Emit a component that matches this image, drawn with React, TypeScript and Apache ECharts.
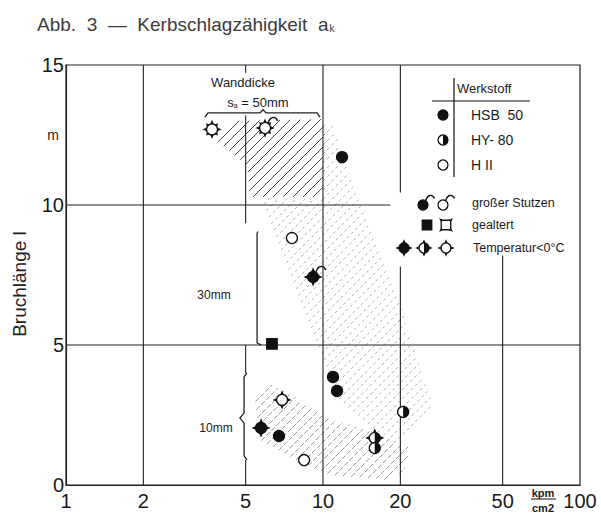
import React, { useEffect, useRef } from 'react';
import * as echarts from 'echarts';

// ---- axis ticks ----
const xTickValues = [1, 2, 5, 10, 20, 50, 100];
const yMin = 0;
const yMax = 15;
const yInterval = 5;

// ---- data points (Kerbschlagzähigkeit kpm/cm², Bruchlänge m) ----
const pointX = [3.7, 5.95, 11.86, 7.57, 9.15, 6.33, 10.94, 11.34, 6.93, 20.5, 5.74, 6.74, 8.44, 15.9, 15.9];
const pointY = [12.7, 12.75, 11.71, 8.82, 7.43, 5.04, 3.86, 3.36, 3.04, 2.61, 2.04, 1.75, 0.89, 1.68, 1.32];
// material: HSB = HSB 50 (filled), HY = HY-80 (half), HII = H II (open)
const pointMaterial = ['HII', 'HII', 'HSB', 'HII', 'HSB', 'HSB', 'HSB', 'HSB', 'HII', 'HY', 'HSB', 'HSB', 'HII', 'HY', 'HY'];
// modifiers: S = großer Stutzen, G = gealtert, T = Temperatur < 0°C
const pointMods = ['GT', 'GTS', '', '', 'TS', 'G', '', '', 'T', '', 'T', '', '', 'T', ''];

// ---- hatched zones (Wanddicke 50 / 30 / 10 mm) ----
const zone50X = [3.83, 4.51, 10, 10, 5.2, 5.06];
const zone50Y = [12.32, 13.0, 13.07, 10.29, 10.29, 11.43];
const zone30X = [5.79, 10, 10, 10.94, 13.32, 18.56, 26.8, 20.85, 16.67, 11.65, 9.56, 8.14];
const zone30Y = [10.21, 10.21, 12.86, 12.86, 10.46, 7.39, 2.75, 1.61, 1.79, 3.04, 5.0, 6.61];
const zone10X = [5.44, 6.22, 8.14, 10.65, 18.23, 21.8, 20.85, 18.23, 10.65, 8.14, 5.69];
const zone10Y = [3.04, 3.61, 3.04, 2.39, 1.68, 1.32, 0.54, 0.18, 0.36, 0.82, 1.61];

// ---- grid line segments [x1, y1, x2, y2] ----
const gridSegments = [
  [2, 0, 2, 15],
  [5, 14.72, 5, 15],
  [5, 9.35, 5, 13.2],
  [5, 4.0, 5, 5],
  [5, 0, 5, 0.9],
  [10, 0, 10, 15],
  [20, 0, 20, 7.8],
  [20, 10.45, 20, 15],
  [50, 0, 50, 8.2],
  [1, 5, 100, 5],
  [1, 10, 18.3, 10],
];

// ---- brackets ----
const brace50X = [3.47, 3.57, 5.69, 5.84, 6.0, 9.48, 9.73];
const brace50Y = [13.14, 13.29, 13.29, 13.4, 13.29, 13.29, 13.14];
const bracket30X = [5.58, 5.54, 5.54, 5.75];
const bracket30Y = [9.05, 8.98, 5.08, 5.0];
const brace10X = [5.06, 4.93, 4.93, 4.75, 4.93, 4.93, 5.06];
const brace10Y = [4.0, 3.86, 2.57, 2.39, 2.21, 1.04, 0.9];

const INK = '#111';
const FONT = 'Liberation Sans, Arial, sans-serif';

function markerEls(cx: number, cy: number, mat: string, mods: string, r: number): any[] {
  const els: any[] = [];
  const filled = mat === 'HSB';
  const hasT = mods.includes('T');
  const hasG = mods.includes('G');
  const hasS = mods.includes('S');
  const spike = (ang: number, len: number) => {
    const ca = Math.cos(ang);
    const sa = Math.sin(ang);
    const px = -sa;
    const py = ca;
    const b = r * 0.8;
    const w = r * 0.4;
    return {
      type: 'polygon',
      shape: {
        points: [
          [cx + ca * b + px * w, cy + sa * b + py * w],
          [cx + ca * len, cy + sa * len],
          [cx + ca * b - px * w, cy + sa * b - py * w],
        ],
      },
      style: { fill: INK },
    };
  };
  if (hasS) {
    els.push({
      type: 'bezierCurve',
      shape: {
        x1: cx + r * 0.5, y1: cy - r * 0.8,
        cpx1: cx + r * 0.9, cpy1: cy - r * 2.2,
        cpx2: cx + r * 1.9, cpy2: cy - r * 2.2,
        x2: cx + r * 2.3, y2: cy - r * 1.3,
      },
      style: { stroke: INK, fill: null, lineWidth: 1.4 },
    });
  }
  if (hasT) {
    [0, Math.PI / 2, Math.PI, -Math.PI / 2].forEach((a) => els.push(spike(a, r * 1.75)));
  }
  const square = hasG && !hasT;
  if (hasG && !filled) {
    [Math.PI / 4, (3 * Math.PI) / 4, -Math.PI / 4, (-3 * Math.PI) / 4].forEach((a) =>
      els.push(spike(a, r * (square ? 1.95 : 1.55)))
    );
  }
  if (square) {
    const s = r * 0.95;
    els.push({
      type: 'rect',
      shape: { x: cx - s, y: cy - s, width: 2 * s, height: 2 * s },
      style: { fill: filled ? INK : '#fff', stroke: INK, lineWidth: 1.3 },
    });
    if (mat === 'HY') {
      els.push({ type: 'rect', shape: { x: cx, y: cy - s, width: s, height: 2 * s }, style: { fill: INK } });
    }
  } else {
    els.push({
      type: 'circle',
      shape: { cx, cy, r },
      style: { fill: filled ? INK : '#fff', stroke: INK, lineWidth: 1.3 },
    });
    if (mat === 'HY') {
      els.push({
        type: 'sector',
        shape: { cx, cy, r0: 0, r, startAngle: -Math.PI / 2, endAngle: Math.PI / 2, clockwise: true },
        style: { fill: INK },
      });
    }
  }
  return els;
}

function hatch(pts: number[][], spacing: number, style: any): any[] {
  const sums = pts.map((p) => p[0] + p[1]);
  const cmin = Math.min(...sums);
  const cmax = Math.max(...sums);
  const out: any[] = [];
  for (let c = Math.ceil(cmin / spacing) * spacing; c <= cmax; c += spacing) {
    const xs: number[][] = [];
    for (let i = 0; i < pts.length; i++) {
      const a = pts[i];
      const b = pts[(i + 1) % pts.length];
      const fa = a[0] + a[1] - c;
      const fb = b[0] + b[1] - c;
      if ((fa < 0 && fb >= 0) || (fb < 0 && fa >= 0)) {
        const t = fa / (fa - fb);
        xs.push([a[0] + t * (b[0] - a[0]), a[1] + t * (b[1] - a[1])]);
      }
    }
    xs.sort((p, q) => p[0] - q[0]);
    for (let k = 0; k + 1 < xs.length; k += 2) {
      out.push({
        type: 'line',
        shape: { x1: xs[k][0], y1: xs[k][1], x2: xs[k + 1][0], y2: xs[k + 1][1] },
        style,
      });
    }
  }
  return out;
}

const zones = [
  { xs: zone50X, ys: zone50Y, spacing: 10, style: { stroke: '#444', lineWidth: 1 } },
  { xs: zone30X, ys: zone30Y, spacing: 9, style: { stroke: '#b0b0b0', lineWidth: 1, lineDash: [3, 3] } },
  { xs: zone10X, ys: zone10Y, spacing: 9, style: { stroke: '#999', lineWidth: 1, lineDash: [5, 2] } },
];

const brackets = [
  { xs: brace50X, ys: brace50Y },
  { xs: bracket30X, ys: bracket30Y },
  { xs: brace10X, ys: brace10Y },
];

function txt(text: string, x: number, y: number, size: number, align = 'left', extra: any = {}) {
  return {
    type: 'text',
    x,
    y,
    z: 20,
    style: {
      text,
      fontSize: size,
      fontFamily: FONT,
      fill: '#1a1a1a',
      textAlign: align,
      textVerticalAlign: 'middle',
      ...extra,
    },
  };
}

function legendGraphics(): any[] {
  const g: any[] = [];
  const mk = (cx: number, cy: number, mat: string, mods: string) =>
    g.push({ type: 'group', z: 20, children: markerEls(cx, cy, mat, mods, 5) });
  g.push(txt('Werkstoff', 457, 88, 13));
  g.push({ type: 'line', z: 20, shape: { x1: 432, y1: 101, x2: 530, y2: 101 }, style: { stroke: INK, lineWidth: 1.2 } });
  g.push({ type: 'line', z: 20, shape: { x1: 454, y1: 78, x2: 454, y2: 177 }, style: { stroke: INK, lineWidth: 1.2 } });
  mk(443, 115, 'HSB', '');
  mk(443, 140, 'HY', '');
  mk(443, 165, 'HII', '');
  g.push(txt('HSB  50', 471, 115, 14));
  g.push(txt('HY- 80', 471, 140, 14));
  g.push(txt('H II', 471, 165, 14));
  mk(423, 205, 'HSB', 'S');
  mk(443, 205, 'HII', 'S');
  g.push(txt('großer Stutzen', 472, 203, 12.5));
  mk(427, 225, 'HSB', 'G');
  mk(446, 225, 'HII', 'G');
  g.push(txt('gealtert', 472, 225, 12.5));
  mk(404, 248, 'HSB', 'T');
  mk(424, 248, 'HY', 'T');
  mk(446, 248, 'HII', 'T');
  g.push(txt('Temperatur<0°C', 473, 248, 12.5));
  return g;
}

export default function App() {
  const ref = useRef<HTMLDivElement>(null);
  useEffect(() => {
    if (!ref.current) return;
    const chart = echarts.init(ref.current, null, { renderer: 'svg' });
    const pointData = pointX.map((x, i) => [x, pointY[i]]);
    const option: any = {
      animation: false,
      backgroundColor: '#fff',
      grid: {
        left: 66,
        top: 65,
        width: 514,
        height: 420,
        show: true,
        borderColor: '#222',
        borderWidth: 1.2,
        backgroundColor: 'transparent',
      },
      xAxis: {
        type: 'log',
        logBase: 10,
        min: 1,
        max: 100,
        axisLine: { show: true, lineStyle: { color: '#222', width: 1.2 } },
        axisTick: { show: false },
        splitLine: { show: false },
        minorSplitLine: { show: false },
        axisLabel: {
          customValues: xTickValues,
          formatter: (v: number) => String(Math.round(v)),
          fontSize: 20,
          fontFamily: FONT,
          color: '#1a1a1a',
          margin: 6,
        },
      },
      yAxis: {
        type: 'value',
        min: yMin,
        max: yMax,
        interval: yInterval,
        axisLine: { show: true, lineStyle: { color: '#222', width: 1.2 } },
        axisTick: { show: false },
        splitLine: { show: false },
        axisLabel: { fontSize: 20, fontFamily: FONT, color: '#1a1a1a', margin: 2 },
      },
      series: [
        {
          type: 'custom',
          coordinateSystem: 'cartesian2d',
          silent: true,
          clip: false,
          z: 1,
          data: zones.map((zn) => [zn.xs[0], zn.ys[0]]),
          renderItem: (params: any, api: any) => {
            const zn = zones[params.dataIndex];
            const pts = zn.xs.map((x, k) => api.coord([x, zn.ys[k]]));
            return { type: 'group', children: hatch(pts, zn.spacing, zn.style) };
          },
        },
        {
          type: 'custom',
          coordinateSystem: 'cartesian2d',
          silent: true,
          clip: false,
          z: 2,
          data: gridSegments,
          renderItem: (params: any, api: any) => {
            const p1 = api.coord([api.value(0), api.value(1)]);
            const p2 = api.coord([api.value(2), api.value(3)]);
            return {
              type: 'line',
              shape: { x1: p1[0], y1: p1[1], x2: p2[0], y2: p2[1] },
              style: { stroke: '#222', lineWidth: 1.1 },
            };
          },
        },
        {
          type: 'custom',
          coordinateSystem: 'cartesian2d',
          silent: true,
          clip: false,
          z: 3,
          data: brackets.map((b) => [b.xs[0], b.ys[0]]),
          renderItem: (params: any, api: any) => {
            const b = brackets[params.dataIndex];
            const pts = b.xs.map((x, k) => api.coord([x, b.ys[k]]));
            return { type: 'polyline', shape: { points: pts }, style: { stroke: '#222', lineWidth: 1.3, fill: null } };
          },
        },
        {
          type: 'custom',
          coordinateSystem: 'cartesian2d',
          silent: true,
          clip: false,
          z: 5,
          data: pointData,
          renderItem: (params: any, api: any) => {
            const p = api.coord([api.value(0), api.value(1)]);
            const i = params.dataIndex;
            return { type: 'group', children: markerEls(p[0], p[1], pointMaterial[i], pointMods[i], 5.5) };
          },
        },
      ],
      graphic: [
        {
          type: 'text',
          x: 37,
          y: 24,
          style: {
            text: 'Abb.  3  —  Kerbschlagzähigkeit  a{k|k}',
            fontSize: 19,
            fontFamily: FONT,
            fill: '#3c3c3c',
            textVerticalAlign: 'middle',
            rich: { k: { fontSize: 10, fontFamily: FONT, fill: '#3c3c3c', verticalAlign: 'bottom', padding: [8, 0, 0, 1] } },
          },
        },
        txt('Bruchlänge l', 19, 284, 19, 'center', { fill: '#222' }),
        txt('m', 53, 135, 14, 'center'),
        txt('Wanddicke', 243, 82, 13, 'center'),
        {
          type: 'text',
          x: 258,
          y: 102,
          z: 20,
          style: {
            text: 's{a|a} = 50mm',
            fontSize: 13,
            fontFamily: FONT,
            fill: '#1a1a1a',
            textAlign: 'center',
            textVerticalAlign: 'middle',
            rich: { a: { fontSize: 7, fontFamily: FONT, verticalAlign: 'bottom', padding: [5, 0, 0, 0] } },
          },
        },
        txt('30mm', 214, 295, 12, 'center'),
        txt('10mm', 216, 428, 12, 'center'),
        txt('kpm', 543, 493, 11, 'center', { fontWeight: 'bold' }),
        { type: 'line', shape: { x1: 531, y1: 499, x2: 556, y2: 499 }, style: { stroke: INK, lineWidth: 1 } },
        txt('cm2', 543, 508, 11, 'center', { fontWeight: 'bold' }),
        ...legendGraphics(),
      ],
    };
    // rotate y-axis title
    option.graphic[1].rotation = Math.PI / 2;
    chart.setOption(option);
    return () => chart.dispose();
  }, []);
  return (
    <div
      ref={ref}
      style={{ position: 'fixed', left: 0, top: 0, width: 601, height: 514, background: '#fff' }}
    />
  );
}
